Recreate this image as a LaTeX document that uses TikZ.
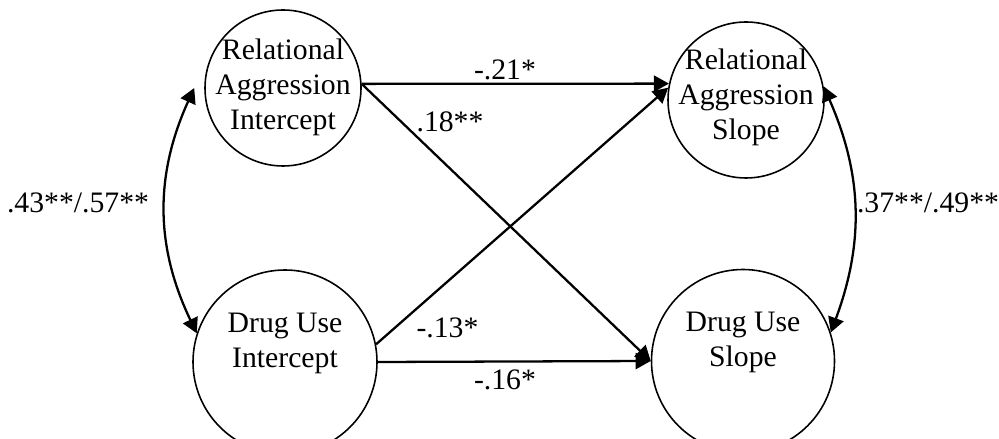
\documentclass[tikz,border=0pt]{standalone}
\usepackage{fontspec}
\setmainfont{Liberation Serif}
\usetikzlibrary{arrows.meta, positioning}

\begin{document}
\begin{tikzpicture}[
        latent/.style={draw, circle, line width=0.9pt, inner sep=0pt},
        txt/.style={align=center, inner sep=0pt, font=\fontsize{16.9}{19.9}\selectfont},
        conn/.style={line width=1.3pt, -{Triangle[length=0.3cm, width=0.32cm]}},
        cov/.style={line width=1.3pt, {Triangle[length=0.3cm, width=0.32cm]}-{Triangle[length=0.3cm, width=0.32cm]}}
    ]
        \useasboundingbox (0,0) rectangle (19.98,8.78);

        % latent growth factors
        \node[latent, minimum size=3.12cm] at (5.66,7.02) (rai) {};
        \node[latent, minimum size=3.68cm] at (5.70,1.54) (dui) {};
        \node[latent, minimum size=3.12cm] at (14.92,6.78) (ras) {};
        \node[latent, minimum size=3.66cm] at (14.86,1.56) (dus) {};

        \node[txt] at ([yshift=0.02cm]rai.center) (raitxt) {Relational\\Aggression\\Intercept};
        \node[txt] at ([yshift=0.38cm]dui.center) (duitxt) {Drug Use\\Intercept};
        \node[txt] at ([yshift=0.06cm]ras.center) (rastxt) {Relational\\Aggression\\Slope};
        \node[txt] at ([yshift=0.38cm]dus.center) (dustxt) {Drug Use\\Slope};

        % regression paths
        \draw[conn] (rai.3) -- (ras.168);
        \draw[conn] (rai.3) -- (dus.west);
        \draw[conn] (dui.11) -- (ras.171);
        \draw[conn] (dui.east) -- (dus.west);

        % covariances
        \draw[cov] ([xshift=-0.2cm]rai.west) to[bend right=25] (dui.162);
        \draw[cov] (ras.10) to[bend left=22] (dus.18);

        \node[txt] at (10.1,7.38) (b21) {-.21*};
        \node[txt] at (9.0,6.34) (b18) {.18**};
        \node[txt] at (8.95,2.22) (b13) {-.13*};
        \node[txt] at (10.1,1.18) (b16) {-.16*};
        \node[txt] at (1.56,4.72) (cint) {.43**/.57**};
        \node[txt] at (18.56,4.72) (cslp) {.37**/.49**};
    \end{tikzpicture}
\end{document}
